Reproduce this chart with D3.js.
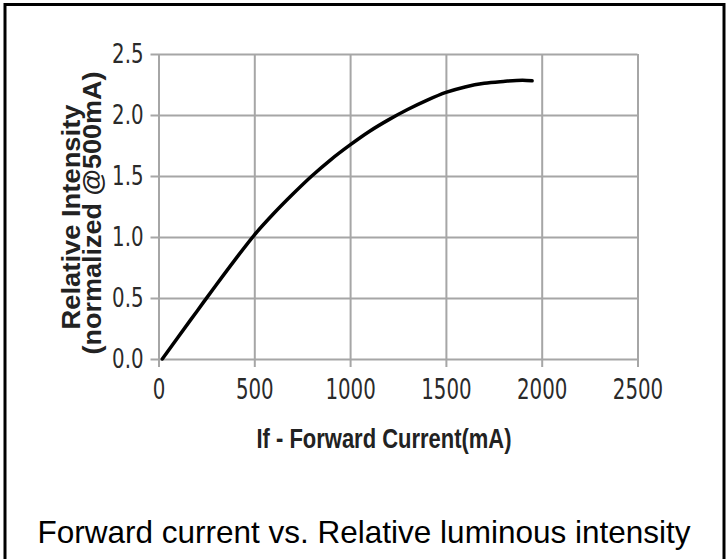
<!DOCTYPE html>
<html>
<head>
<meta charset="utf-8">
<script src="https://cdn.jsdelivr.net/npm/d3@7"></script>
<style>
  body { margin: 0; background: #fff; }
  .tick text { font-family: "Liberation Sans Narrow", "Arial Narrow", "DejaVu Sans Condensed", sans-serif; fill: #2a2a2a; }
</style>
</head>
<body>
<div id="viz"></div>
<script>
// constants
const F_HEIGHT = 559;
const F_WIDTH = 726;
const MARGINS = {left: 158.5, right: 88.5, top: 54, bottom: 200};

const VIS_HEIGHT = F_HEIGHT - MARGINS.top - MARGINS.bottom;
const VIS_WIDTH = F_WIDTH - MARGINS.left - MARGINS.right;

// data
const current = [20, 100, 200, 300, 400, 500, 600, 700, 800, 900, 1000, 1100, 1200, 1300, 1400, 1500, 1600, 1700, 1800, 1900, 1950];
const intensity = [0.0, 0.175, 0.39, 0.605, 0.815, 1.016, 1.19, 1.35, 1.50, 1.635, 1.755, 1.865, 1.96, 2.045, 2.12, 2.185, 2.23, 2.26, 2.275, 2.285, 2.28];

const xTicks = [0, 500, 1000, 1500, 2000, 2500];
const yTicks = [0, 0.5, 1.0, 1.5, 2.0, 2.5];

const data = current.map((c, i) => ({x: c, y: intensity[i]}));

const FRAME = d3.select("#viz")
  .append("svg")
    .attr("height", F_HEIGHT)
    .attr("width", F_WIDTH);

// outer border
FRAME.append("rect")
  .attr("x", 5)
  .attr("y", 4.5)
  .attr("width", 719)
  .attr("height", 600)
  .attr("fill", "none")
  .attr("stroke", "#000")
  .attr("stroke-width", 3);

const X_SCALE = d3.scaleLinear().domain([0, 2500]).range([0, VIS_WIDTH]);
const Y_SCALE = d3.scaleLinear().domain([0, 2.5]).range([VIS_HEIGHT, 0]);

// x axis with full-height gridlines
const xAxis = FRAME.append("g")
  .attr("transform", "translate(" + MARGINS.left + "," + (VIS_HEIGHT + MARGINS.top) + ")")
  .call(d3.axisBottom(X_SCALE).tickValues(xTicks).tickFormat(d3.format("d"))
        .tickSizeInner(-VIS_HEIGHT).tickSizeOuter(0).tickPadding(23));
xAxis.select(".domain").remove();
xAxis.selectAll(".tick line")
  .attr("y1", 8)
  .attr("stroke", "#a6a6a6")
  .attr("stroke-width", 2);
xAxis.selectAll(".tick text")
  .style("font-size", "22px")
  .style("transform-box", "fill-box")
  .style("transform-origin", "center")
  .style("transform", "scaleY(1.25)");

// y axis with full-width gridlines
const yAxis = FRAME.append("g")
  .attr("transform", "translate(" + MARGINS.left + "," + MARGINS.top + ")")
  .call(d3.axisLeft(Y_SCALE).tickValues(yTicks).tickFormat(d3.format(".1f"))
        .tickSizeInner(-VIS_WIDTH).tickSizeOuter(0).tickPadding(15));
yAxis.select(".domain").remove();
yAxis.selectAll(".tick line")
  .attr("x1", -8)
  .attr("stroke", "#a6a6a6")
  .attr("stroke-width", 2);
yAxis.selectAll(".tick text")
  .style("font-size", "22px")
  .style("transform-box", "fill-box")
  .style("transform-origin", "center")
  .style("transform", "scaleY(1.2)");

// curve
const line = d3.line()
  .x((d) => X_SCALE(d.x) + MARGINS.left)
  .y((d) => Y_SCALE(d.y) + MARGINS.top)
  .curve(d3.curveMonotoneX);

FRAME.append("path")
  .datum(data)
  .attr("d", line)
  .attr("fill", "none")
  .attr("stroke", "#000")
  .attr("stroke-width", 3.5)
  .attr("stroke-linecap", "round");

// axis titles
const titleFont = "'Liberation Sans Narrow', 'Arial Narrow', 'Liberation Sans', sans-serif";

FRAME.append("text")
  .attr("x", 384)
  .attr("y", 448)
  .attr("text-anchor", "middle")
  .attr("textLength", 255)
  .attr("lengthAdjust", "spacingAndGlyphs")
  .style("font-family", titleFont)
  .style("font-weight", "bold")
  .style("font-size", "28px")
  .style("fill", "#222")
  .text("If - Forward Current(mA)");

FRAME.append("text")
  .attr("transform", "translate(80,217) rotate(-90)")
  .attr("text-anchor", "middle")
  .attr("textLength", 225)
  .attr("lengthAdjust", "spacingAndGlyphs")
  .style("font-family", titleFont)
  .style("font-weight", "bold")
  .style("font-size", "25px")
  .style("fill", "#222")
  .text("Relative  Intensity");

FRAME.append("text")
  .attr("transform", "translate(101,213) rotate(-90)")
  .attr("text-anchor", "middle")
  .attr("textLength", 283)
  .attr("lengthAdjust", "spacingAndGlyphs")
  .style("font-family", titleFont)
  .style("font-weight", "bold")
  .style("font-size", "25px")
  .style("fill", "#222")
  .text("(normalized @500mA)");

// caption
FRAME.append("text")
  .attr("x", 364)
  .attr("y", 543)
  .attr("text-anchor", "middle")
  .style("font-family", "'Liberation Sans', Arial, sans-serif")
  .style("font-size", "31.5px")
  .style("fill", "#000")
  .text("Forward current vs. Relative luminous intensity");
</script>
</body>
</html>
